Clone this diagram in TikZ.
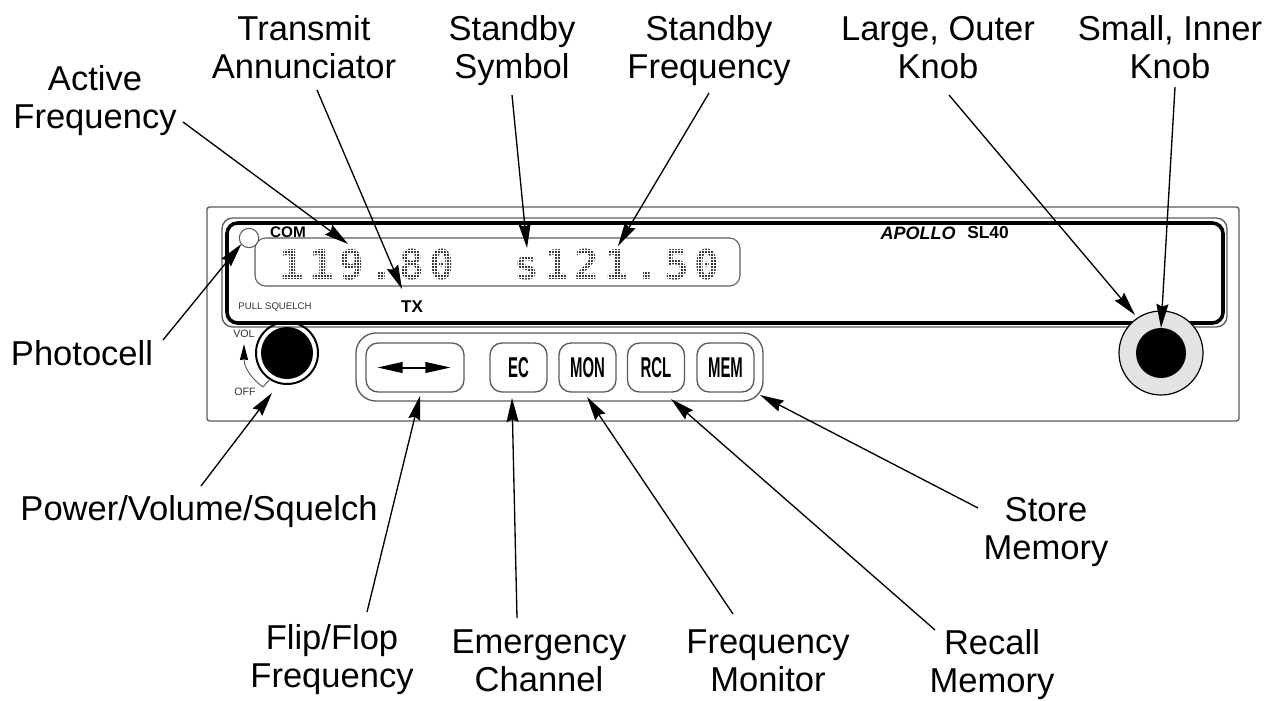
\documentclass[tikz,border=0pt]{standalone}
\usepackage{fontspec}
\setmainfont{Liberation Sans}
\newfontfamily\dotfont[LetterSpace=12.9]{DejaVu Sans Mono}
\usetikzlibrary{arrows.meta}

\definecolor{panelgray}{HTML}{5A5A5A}
\definecolor{knobgray}{HTML}{E3E3E3}

\newcommand{\btntext}[1]{\scalebox{.52}[1]{\fontsize{21.5}{24}\selectfont\bfseries #1}}

\tikzset{
 callout/.style = {anchor=south, inner sep=0pt, text depth=0pt, align=center, font=\fontsize{25.9}{28.9}\selectfont},
 pointer/.style = {line width=1pt, -{Stealth[length=18pt,width=9pt,inset=2pt]}},
 panelline/.style = {draw=panelgray, line width=1pt},
 button/.style = {panelline, rounded corners=9pt, minimum height=36.75pt, minimum width=42.75pt, inner sep=0pt},
 knob/.style = {circle, inner sep=0pt, outer sep=0pt},
 smalltext/.style = {inner sep=0pt, text=black!80},
 readout/.style = {anchor=base west, inner sep=0pt, font=\dotfont\bfseries\fontsize{30.8}{32}\selectfont}
}

\begin{document}
\begin{tikzpicture}[x=0.75pt, y=-0.75pt]
 \useasboundingbox (0,0) rectangle (1269,700);

 % panel
 \draw[panelline, rounded corners=2pt] (207,207) rectangle (1239,421);
 \draw[panelline, rounded corners=8pt] (222,218) rectangle (1227,327);
 \draw[line width=2.7pt, rounded corners=8pt] (227,223) rectangle (1223,323);
 \draw[panelline, line width=.8pt, rounded corners=8pt] (255,238) rectangle (740,286);

 % readouts, seen through a mask of round holes
 \node[readout] (active) at (279.6,279) {119.80};
 \node[readout] (standby) at (514.6,279) {s121.50};
 \fill[white, even odd rule] (270,244) rectangle (730,283)
  foreach \i in {0,...,150} {foreach \j in {0,...,10} {
   (277+3*\i, 249+3*\j) circle (1.08pt)}};

 \node[knob, draw=panelgray, fill=white, line width=.8pt, minimum size=14.5pt] (photocell) at (249,238) {};

 \node[inner sep=0pt, font=\fontsize{11.5}{12}\selectfont\bfseries] (com) at (288,232) {COM};
 \node[smalltext, font=\fontsize{7.2}{8}\selectfont] (squelch) at (275,307) {PULL SQUELCH};
 \node[inner sep=0pt, font=\fontsize{12.8}{14}\selectfont\bfseries] (tx) at (412,307) {TX};
 \node[inner sep=0pt, font=\fontsize{13.5}{14}\selectfont\bfseries\itshape] (apollo) at (918,233) {APOLLO};
 \node[inner sep=0pt, font=\fontsize{13}{14}\selectfont\bfseries] (model) at (988,233) {SL40};

 % volume knob
 \node[knob, draw, line width=1.5pt, minimum size=46.5pt] (volring) at (287,353) {};
 \node[knob, fill, minimum size=39pt] (volknob) at (287,353) {};
 \node[smalltext, font=\fontsize{8}{9}\selectfont] (vol) at (244,334) {VOL};
 \node[smalltext, font=\fontsize{8}{9}\selectfont] (off) at (245,392) {OFF};
 \coordinate (voltick) at (263,387);
 \draw[panelline, line width=.7pt] (volring.237) -- (voltick);
 \draw[panelline, line width=.7pt, -{Stealth[length=12pt,width=6pt,inset=.5pt,black]}] (voltick) .. controls (252,379) and (244,368) .. (244,344);

 % buttons
 \draw[panelline, rounded corners=15pt] (356,333) rectangle (763,401);
 \node[button, minimum width=73.5pt] (flip) at (415,367.5) {};
 \node[button] (ec) at (518.5,367.5) {\btntext{EC}};
 \node[button] (mon) at (587.5,367.5) {\btntext{MON}};
 \node[button] (rcl) at (656,367.5) {\btntext{RCL}};
 \node[button] (mem) at (725.5,367.5) {\btntext{MEM}};
 \draw[line width=1.5pt, {Triangle[length=19pt,width=8pt]}-{Triangle[length=19pt,width=8pt]}] ([xshift=9pt]flip.west) -- ([xshift=-10.5pt]flip.east);

 % tuning knob
 \node[knob, draw, fill=knobgray, line width=.9pt, minimum size=63pt] (outerknob) at (1161,353) {};
 \node[knob, fill, minimum size=37.5pt] (innerknob) at (1161,353) {};

 % labels
 \node[callout] (lblactive) at (95,129) {Active\\Frequency};
 \node[callout] (lbltransmit) at (304,79) {Transmit\\Annunciator};
 \node[callout] (lblsymbol) at (512,79) {Standby\\Symbol};
 \node[callout] (lblstandby) at (709,79) {Standby\\Frequency};
 \node[callout] (lblouter) at (938,79) {Large, Outer\\Knob};
 \node[callout] (lblinner) at (1170,79) {Small, Inner\\Knob};
 \node[callout] (lblphoto) at (82,366) {Photocell};
 \node[callout] (lblpower) at (199,521) {Power/Volume/Squelch};
 \node[callout] (lblflip) at (332,688) {Flip/Flop\\Frequency};
 \node[callout] (lblec) at (539,692) {Emergency\\Channel};
 \node[callout] (lblmon) at (768,692) {Frequency\\Monitor};
 \node[callout] (lblrcl) at (992,693) {Recall\\Memory};
 \node[callout] (lblmem) at (1046,560) {Store\\Memory};

 % free ends of the pointers
 \coordinate (toactive) at (348,244);
 \coordinate (totx) at (402,289);
 \coordinate (tosymbol) at (527,248);
 \coordinate (tostandby) at (618,246);
 \coordinate (toouter) at (1135,315);
 \coordinate (topower) at (272,393);
 \coordinate (toflip) at (420,396);
 \coordinate (toec) at (512,398);
 \coordinate (tomon) at (587,397);
 \coordinate (torcl) at (671,399);
 \coordinate (tomem) at (760,395);

 \draw[pointer] ([shift={(88,-7)}]lblactive.south) -- (toactive);
 \draw[pointer] ([shift={(13,11)}]lbltransmit.south) -- (totx);
 \draw[pointer] ([shift={(0,16)}]lblsymbol.south) -- (tosymbol);
 \draw[pointer] ([shift={(0,14)}]lblstandby.south) -- (tostandby);
 \draw[pointer] ([shift={(11,16)}]lblouter.south) -- (toouter);
 \draw[pointer] ([shift={(5,8)}]lblinner.south) -- (innerknob.north);
 \draw[pointer] ([shift={(81,-26)}]lblphoto.south) -- (photocell.218);
 \draw[pointer] ([shift={(2,-35)}]lblpower.south) -- (topower);
 \draw[pointer] ([shift={(35,-76)}]lblflip.south) -- (toflip);
 \draw[pointer] ([shift={(-22,-74)}]lblec.south) -- (toec);
 \draw[pointer] ([shift={(-35,-78)}]lblmon.south) -- (tomon);
 \draw[pointer] ([shift={(-57,-63)}]lblrcl.south) -- (torcl);
 \draw[pointer] ([shift={(-68,-52)}]lblmem.south) -- (tomem);
\end{tikzpicture}
\end{document}
